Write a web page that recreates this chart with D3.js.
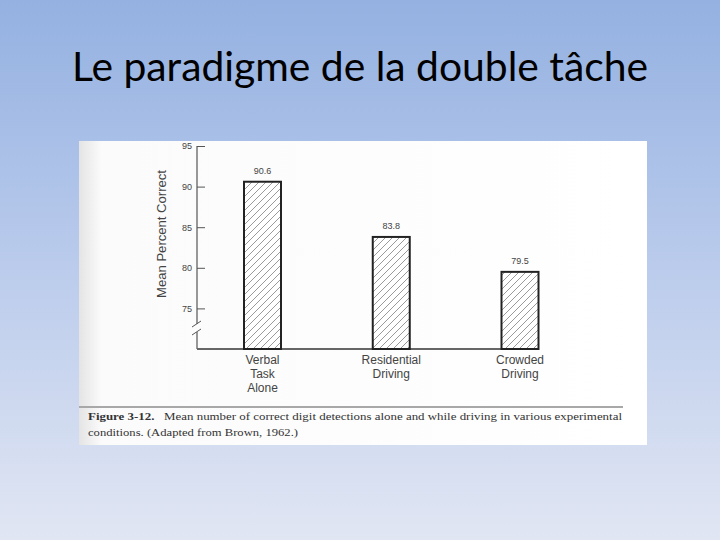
<!DOCTYPE html>
<html>
<head>
<meta charset="utf-8">
<script src="https://cdn.jsdelivr.net/npm/d3@7/dist/d3.min.js"></script>
<style>
html,body{margin:0;padding:0;overflow:hidden;}
svg{display:block;}
</style>
</head>
<body>
<script>
// ---- data ----
const titleText = "Le paradigme de la double tâche";
const categories = ["Verbal Task Alone", "Residential Driving", "Crowded Driving"];
const categoryLines = [["Verbal", "Task", "Alone"], ["Residential", "Driving"], ["Crowded", "Driving"]];
const values = [90.6, 83.8, 79.5];
const valueLabels = ["90.6", "83.8", "79.5"];
const yTicks = [75, 80, 85, 90, 95];
const yDomain = [70, 95];
const yLabel = "Mean Percent Correct";
const captionBold = "Figure 3-12.";
const captionLine1 = "Mean number of correct digit detections alone and while driving in various experimental";
const captionLine2 = "conditions. (Adapted from Brown, 1962.)";

const W = 720, H = 540;
const svg = d3.select("body").append("svg").attr("width", W).attr("height", H);
const defs = svg.append("defs");

// background gradient
const bg = defs.append("linearGradient").attr("id", "bg").attr("x1", 0).attr("y1", 0).attr("x2", 0).attr("y2", 1);
bg.append("stop").attr("offset", "0%").attr("stop-color", "#94b1e1");
bg.append("stop").attr("offset", "45%").attr("stop-color", "#b7c9eb");
bg.append("stop").attr("offset", "100%").attr("stop-color", "#e1e6f3");
svg.append("rect").attr("width", W).attr("height", H).attr("fill", "url(#bg)");

// scanned paper gradient
const pg = defs.append("linearGradient").attr("id", "paper").attr("x1", 0).attr("y1", 0).attr("x2", 1).attr("y2", 0);
pg.append("stop").attr("offset", "0%").attr("stop-color", "#e4e4e4");
pg.append("stop").attr("offset", "4%").attr("stop-color", "#fbfbfb");
pg.append("stop").attr("offset", "100%").attr("stop-color", "#ffffff");

// hatch pattern
const pat = defs.append("pattern").attr("id", "hatch").attr("patternUnits", "userSpaceOnUse")
  .attr("width", 7).attr("height", 7);
pat.append("rect").attr("width", 7).attr("height", 7).attr("fill", "#fff");
pat.append("path").attr("d", "M0,7 L7,0 M-1,1 L1,-1 M6,8 L8,6")
  .attr("stroke", "#808080").attr("stroke-width", 0.8);

// title
const title = svg.append("text").attr("x", 360).attr("y", 81).attr("text-anchor", "middle")
  .attr("font-family", "Lato, 'Open Sans', sans-serif").attr("font-size", 40).attr("fill", "#000")
  .text(titleText);
title.attr("textLength", 576).attr("lengthAdjust", "spacingAndGlyphs");

// figure paper
svg.append("rect").attr("x", 79).attr("y", 141).attr("width", 568).attr("height", 304).attr("fill", "url(#paper)");

// scales
const y = d3.scaleLinear().domain(yDomain).range([349, 146]);
const x = d3.scalePoint().domain(categories).range([262.5, 520]);
const barW = 37;
const axisX = 197;

// y axis ticks
const yAxis = d3.axisLeft(y).tickValues(yTicks).tickSizeInner(-8).tickSizeOuter(0).tickPadding(5);
const gAxis = svg.append("g").attr("transform", `translate(${axisX},0)`).call(yAxis);
gAxis.select(".domain").remove();
gAxis.selectAll(".tick line").attr("stroke", "#555").attr("stroke-width", 1);
gAxis.selectAll(".tick text").attr("font-family", "'Liberation Sans', Arial, sans-serif")
  .attr("font-size", 9).attr("fill", "#444");

// axis line with break
svg.append("line").attr("x1", axisX).attr("x2", axisX).attr("y1", y(95)).attr("y2", 324)
  .attr("stroke", "#555").attr("stroke-width", 1.2);
svg.append("line").attr("x1", axisX).attr("x2", axisX).attr("y1", 332).attr("y2", y(70))
  .attr("stroke", "#555").attr("stroke-width", 1.2);
[324, 332].forEach(v => {
  svg.append("line").attr("x1", axisX - 5).attr("y1", v + 3).attr("x2", axisX + 4).attr("y2", v - 3)
    .attr("stroke", "#555").attr("stroke-width", 1);
});

// y label
svg.append("text").attr("transform", "translate(166,234) rotate(-90)").attr("text-anchor", "middle")
  .attr("font-family", "'Liberation Sans', Arial, sans-serif").attr("font-size", 13).attr("fill", "#444")
  .attr("textLength", 128).attr("lengthAdjust", "spacingAndGlyphs")
  .text(yLabel);

// baseline
svg.append("line").attr("x1", axisX).attr("x2", x(categories[2]) + barW / 2).attr("y1", y(70)).attr("y2", y(70))
  .attr("stroke", "#666").attr("stroke-width", 2);

// bars
svg.selectAll("rect.bar").data(categories).enter().append("rect").attr("class", "bar")
  .attr("x", d => x(d) - barW / 2)
  .attr("y", (d, i) => y(values[i]))
  .attr("width", barW)
  .attr("height", (d, i) => y(70) - y(values[i]))
  .attr("fill", "url(#hatch)").attr("stroke", "#222").attr("stroke-width", 2);

// value labels
svg.selectAll("text.val").data(categories).enter().append("text").attr("class", "val")
  .attr("x", d => x(d)).attr("y", (d, i) => y(values[i]) - 8)
  .attr("text-anchor", "middle").attr("font-family", "'Liberation Sans', Arial, sans-serif")
  .attr("font-size", 9).attr("fill", "#444").text((d, i) => valueLabels[i]);

// category labels
categories.forEach((c, i) => {
  categoryLines[i].forEach((ln, j) => {
    svg.append("text").attr("x", x(c)).attr("y", 364 + j * 14).attr("text-anchor", "middle")
      .attr("font-family", "'Liberation Sans', Arial, sans-serif").attr("font-size", 12)
      .attr("fill", "#444").text(ln);
  });
});

// caption
svg.append("line").attr("x1", 79).attr("x2", 623).attr("y1", 407).attr("y2", 407)
  .attr("stroke", "#a8a8a8").attr("stroke-width", 2);
const cap1 = svg.append("text").attr("x", 88).attr("y", 420)
  .attr("font-family", "'Liberation Serif', 'DejaVu Serif', serif").attr("font-size", 11).attr("fill", "#333")
  .attr("textLength", 534).attr("lengthAdjust", "spacingAndGlyphs");
cap1.append("tspan").attr("font-weight", "bold").text(captionBold);
cap1.append("tspan").text("\u00a0\u00a0 " + captionLine1);
svg.append("text").attr("x", 88).attr("y", 436)
  .attr("font-family", "'Liberation Serif', 'DejaVu Serif', serif").attr("font-size", 11).attr("fill", "#333")
  .attr("textLength", 210).attr("lengthAdjust", "spacingAndGlyphs")
  .text(captionLine2);
</script>
</body>
</html>
